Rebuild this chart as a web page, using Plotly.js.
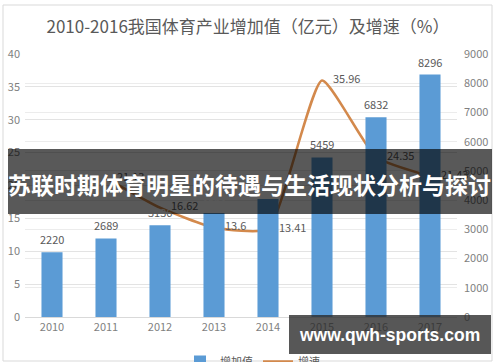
<!DOCTYPE html>
<html>
<head>
<meta charset="utf-8">
<script src="https://cdn.plot.ly/plotly-3.0.1.min.js"></script>
<style>html,body{margin:0;padding:0;background:#fff;}#chart{width:500px;height:362px;}</style>
</head>
<body>
<div id="chart"></div>
<script>
const years = ['2010','2011','2012','2013','2014','2015','2016','2017'];
const addedValue = [2220, 2689, 3136, 3563, 4041, 5459, 6832, 8296];
const growthYears = ['2011','2012','2013','2014','2015','2016','2017'];
const growthRate = [21.13, 16.62, 13.6, 13.41, 35.96, 24.35, 21.43];
const leftTicks = [0,5,10,15,20,25,30,35,40];
const rightTicks = [0,1000,2000,3000,4000,5000,6000,7000,8000,9000];
const titleText = '2010-2016我国体育产业增加值（亿元）及增速（%）';
const bannerText = '苏联时期体育明星的待遇与生活现状分析与探讨';
const watermarkText = 'www.qwh-sports.com';

const FONT = '"Noto Sans CJK SC", "Noto Sans", sans-serif';
const GRAY = '#595959';

// pixel -> paper helpers (plot area: x 25..457, y 54..317)
const L = 25, R = 43, T = 54, B = 45, W = 500, H = 362;
const pw = W - L - R, ph = H - T - B;
const px = x => (x - L) / pw;
const py = y => (H - B - y) / ph;

const traces = [
  {
    type: 'bar', name: '增加值', x: years, y: addedValue, yaxis: 'y2',
    marker: {color: '#5b9bd5'}, width: 0.39
  },
  {
    type: 'scatter', mode: 'lines+markers+text', name: '增速', x: growthYears, y: growthRate,
    line: {color: '#d3894c', width: 2.5, shape: 'spline', smoothing: 0.5},
    marker: {size: 16, color: 'rgba(0,0,0,0)', line: {width: 0}},
    text: growthRate.map(String), textposition: 'middle right', cliponaxis: false,
    textfont: {family: FONT, size: 11, color: GRAY}
  }
];

// bar value labels, placed by category index on the x axis and by value on y2
const barLabels = years.map((yr, i) => ({
  text: String(addedValue[i]), x: i, y: addedValue[i], xref: 'x', yref: 'y2',
  xanchor: 'center', yanchor: 'bottom', yshift: 4, showarrow: false, borderpad: 0,
  font: {family: FONT, size: 11, color: GRAY}
}));

const layout = {
  width: W, height: H,
  margin: {l: L, r: R, t: T, b: B, pad: 0, autoexpand: false},
  paper_bgcolor: '#fff', plot_bgcolor: '#fff',
  font: {family: FONT, color: GRAY, size: 11},
  title: {text: titleText, x: 0.496, xanchor: 'center', y: 1 - 27/H, yanchor: 'middle',
          font: {family: FONT, size: 17, color: GRAY}},
  showlegend: true,
  legend: {orientation: 'h', xref: 'container', yref: 'container', x: 180/W, xanchor: 'left',
           y: 1 - 347/H, yanchor: 'top',
           font: {family: FONT, size: 11, color: GRAY}, bgcolor: 'rgba(0,0,0,0)', traceorder: 'normal'},
  bargap: 0.6,
  xaxis: {type: 'category', categoryorder: 'array', categoryarray: years, range: [-0.5, years.length - 0.5],
          showgrid: false, showline: false, zeroline: false, ticks: '',
          tickfont: {family: FONT, size: 11, color: '#7f7f7f'}, ticklabelstandoff: 2},
  yaxis: {range: [0, 40], tickvals: leftTicks, showgrid: true, gridcolor: '#e3e3e3', gridwidth: 1,
          zeroline: true, zerolinecolor: '#d9d9d9', showline: false, ticks: '',
          tickfont: {family: FONT, size: 11, color: '#7f7f7f'}, ticklabelstandoff: 4},
  yaxis2: {range: [0, 9000], tickvals: rightTicks, overlaying: 'y', side: 'right',
           showgrid: true, gridcolor: '#ececec', gridwidth: 1, zeroline: false, showline: false, ticks: '',
           tickfont: {family: FONT, size: 11, color: '#7f7f7f'}, ticklabelstandoff: 6},
  shapes: [
    {type: 'rect', xref: 'paper', yref: 'paper', x0: px(3), x1: px(492), y0: py(361), y1: py(5),
     line: {color: '#d9d9d9', width: 1}, fillcolor: 'rgba(0,0,0,0)', layer: 'below'},
    {type: 'rect', xref: 'paper', yref: 'paper', x0: px(8), x1: px(492), y0: py(214), y1: py(149),
     line: {width: 0}, fillcolor: 'rgba(0,0,0,0.65)', layer: 'above'},
    {type: 'rect', xref: 'paper', yref: 'paper', x0: px(289), x1: px(491), y0: py(354), y1: py(315),
     line: {width: 0}, fillcolor: 'rgba(40,40,40,0.78)', layer: 'above'}
  ],
  annotations: barLabels.concat([
    {text: '<b>' + bannerText + '</b>', xref: 'paper', yref: 'paper', x: px(249), y: py(184),
     xanchor: 'center', yanchor: 'middle', showarrow: false, borderpad: 0,
     font: {family: '"Noto Sans CJK SC", sans-serif', size: 23, color: '#ffffff'}},
    {text: '<b>' + watermarkText + '</b>', xref: 'paper', yref: 'paper', x: px(389), y: py(335),
     xanchor: 'center', yanchor: 'middle', showarrow: false, borderpad: 0,
     font: {family: '"Liberation Sans", Arial, sans-serif', size: 17.5, color: '#ffffff'}}
  ])
};

Plotly.newPlot('chart', traces, layout, {displayModeBar: false, staticPlot: true});
</script>
</body>
</html>
